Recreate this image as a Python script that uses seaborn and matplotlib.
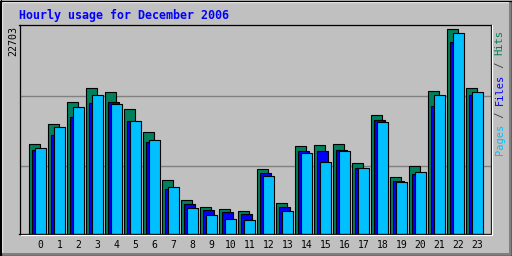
import numpy as np
import matplotlib
matplotlib.use("Agg")
import matplotlib.pyplot as plt
from matplotlib.lines import Line2D
import seaborn as sns

hours = list(range(24))
hits = [9983, 12209, 14546, 16104, 15659, 13767, 11318, 5976, 3750, 2971, 2749, 2526,
        7200, 3417, 9760, 9871, 9983, 7868, 13210, 6310, 7534, 15770, 22703, 16104]
files = [9237, 10984, 12910, 14468, 14546, 12542, 10127, 4975, 3305, 2638, 2415, 2192,
         6755, 2971, 9204, 9204, 9315, 7312, 12654, 5865, 6644, 14100, 21223, 15325]
pages = [9538, 11875, 13989, 15325, 14323, 12542, 10428, 5197, 2860, 2081, 1636, 1525,
         6421, 2526, 8981, 7980, 9204, 7312, 12431, 5754, 6867, 15325, 22224, 15659]
max_label = "22703"
title = "Hourly usage for December 2006"

BG = "#C0C0C0"
C_HITS = "#00805C"
C_FILES = "#0000FF"
C_PAGES = "#00C0FF"

sns.set_theme(style="white")
plt.rcParams["font.family"] = ["DejaVu Sans Mono", "DejaVu Sans"]

W, H = 512, 256
fig = plt.figure(figsize=(W / 100, H / 100), dpi=100, facecolor=BG)

L, R, T, B = 19.5, 490.5, 25, 233.5
ax = fig.add_axes([L / W, (H - B) / H, (R - L) / W, (B - T) / H])
ax.set_facecolor(BG)

px_per_unit = 19.0
ymax = 22703 * (B - 0.5 - T) / 204.0
ax.set_ylim(0, ymax)

for gy in (7490, 15280):
    ax.axhline(gy, color="#808080", lw=1.0, zorder=0)

h = np.array(hours, dtype=float)
bw = 10.4 / px_per_unit
for vals, col, off in ((hits, C_HITS, -6.0), (files, C_FILES, -3.0), (pages, C_PAGES, 0.0)):
    sns.barplot(x=h + off / px_per_unit, y=vals, native_scale=True, width=bw,
                color=col, saturation=1, edgecolor="black", linewidth=0.8,
                errorbar=None, ax=ax, zorder=2)

ax.set_xlim(-(40.5 - L) / px_per_unit, (R - 40.5) / px_per_unit)
ax.set_xticks(hours)
ax.set_xticklabels([str(v) for v in hours], fontsize=7, color="black",
                   family="DejaVu Sans Mono")
ax.set_yticks([])
ax.tick_params(axis="x", length=0, pad=4.5)
ax.set_xlabel("")
ax.set_ylabel("")
for s in ax.spines.values():
    s.set_visible(True)
    s.set_color("black")
    s.set_linewidth(0.9)

def fx(x):
    return x / W

def fy(y):
    return (H - y) / H

fig.add_artist(Line2D([fx(L + 1), fx(R + 1.5)], [fy(B + 1.5), fy(B + 1.5)], color="white", lw=0.9, transform=fig.transFigure))
fig.add_artist(Line2D([fx(R + 1.5), fx(R + 1.5)], [fy(T), fy(B + 1.5)], color="white", lw=0.9, transform=fig.transFigure))

fig.add_artist(Line2D([fx(1), fx(W - 2)], [fy(1.5), fy(1.5)], color="white", lw=0.9, transform=fig.transFigure))
fig.add_artist(Line2D([fx(1.5), fx(1.5)], [fy(1), fy(H - 2)], color="white", lw=0.9, transform=fig.transFigure))
fig.add_artist(Line2D([fx(2), fx(W - 1)], [fy(H - 2.5), fy(H - 2.5)], color="#808080", lw=2.2, transform=fig.transFigure))
fig.add_artist(Line2D([fx(W - 2.5), fx(W - 2.5)], [fy(2), fy(H - 1)], color="#808080", lw=2.2, transform=fig.transFigure))
fig.add_artist(Line2D([0, 1, 1, 0, 0], [fy(0.5), fy(0.5), fy(H - 0.5), fy(H - 0.5), fy(0.5)],
                      color="black", lw=0.9, transform=fig.transFigure))
fig.add_artist(Line2D([fx(0.5), fx(0.5)], [0, 1], color="black", lw=0.9, transform=fig.transFigure))
fig.add_artist(Line2D([fx(W - 0.5), fx(W - 0.5)], [0, 1], color="black", lw=0.9, transform=fig.transFigure))

fig.text(fx(19), fy(15), title, color="#0000FF", fontsize=8.4, fontweight="bold",
         family="DejaVu Sans Mono", ha="left", va="center")

fig.text(fx(13.5), fy(26), max_label, rotation=90, color="black", fontsize=7.2,
         family="DejaVu Sans Mono", ha="center", va="top")

fs = 7.47
ch = 6.25
segs = [("Pages", C_PAGES), (" / ", "#404040"), ("Files", C_FILES), (" / ", "#404040"), ("Hits", C_HITS)]
pos = 155.0
for txt, col in segs:
    fig.text(fx(499.5), fy(pos), txt, rotation=90, color=col, fontsize=fs,
             family="DejaVu Sans Mono", ha="center", va="bottom")
    pos -= ch * len(txt)

fig.savefig("out.png", dpi=100, facecolor=BG)
